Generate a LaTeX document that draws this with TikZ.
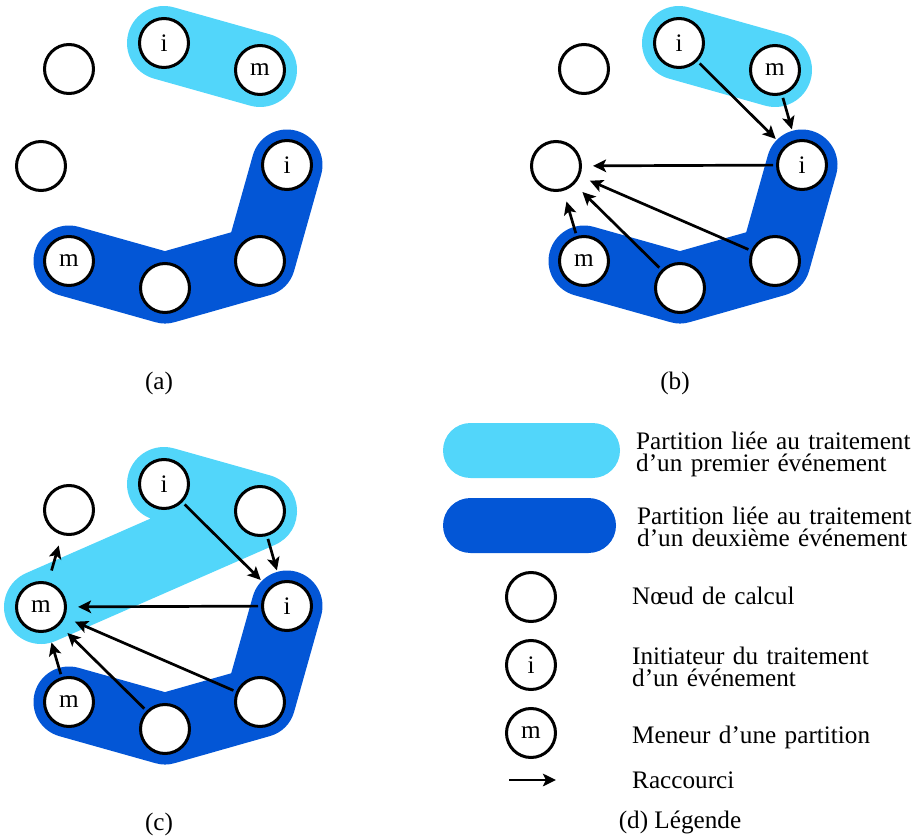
\documentclass[tikz,border=0pt]{standalone}
\usepackage{fontspec}
\setmainfont{Liberation Serif}
\usetikzlibrary{arrows.meta,backgrounds}
\definecolor{clair}{RGB}{82,214,250}
\definecolor{fonce}{RGB}{3,86,214}
\tikzset{
  noeud/.style={draw,circle,line width=3pt,fill=white,minimum size=49pt,inner sep=0pt},
  lien/.style={-{Stealth[length=13pt,width=12.5pt,inset=3pt]},line width=2.7pt,shorten <=3pt,shorten >=11pt},
  partA/.style={draw=clair,line width=74pt,line cap=round,line join=round},
  partB/.style={draw=fonce,line width=71pt,line cap=round,line join=round},
  capsule/.style={rounded corners=27.5pt,minimum height=55pt,inner sep=0pt},
  legende/.style={anchor=base west,inner sep=0pt,text width=276pt,align=left},
}

\begin{document}
\begin{tikzpicture}[x=1pt,y=-1pt,font=\fontsize{25.2pt}{22pt}\selectfont]
  \useasboundingbox (0,0) rectangle (914,837);

  % (a) et (b) : meme anneau de noeuds
  \foreach \p/\dx in {a/0,b/515}
    \foreach \n/\x/\y/\t in {hg/69/69/{}, g/41/166/{}, h/164/43/i, hd/260/70/m,
                             d/287/165/i, bd/260/261/{}, bm/165/288/{}, bg/69/261/m}
      \node[noeud] (\p-\n) at (\x+\dx,\y) {\t};
  % (c) : le meneur de la premiere partition a change
  \foreach \n/\x/\y/\t in {hg/69/510/{}, g/41/607/m, h/164/484/i, hd/260/511/{},
                           d/287/606/i, bd/260/702/{}, bm/165/729/{}, bg/69/702/m}
    \node[noeud] (c-\n) at (\x,\y) {\t};

  \begin{scope}[on background layer]
    \draw[partA] (a-h.center) -- (a-hd.center);
    \draw[partB] (a-bg.center) -- (a-bm.center) -- (a-bd.center) -- (a-d.center);
    \draw[partA] (b-h.center) -- (b-hd.center);
    \draw[partB] (b-bg.center) -- (b-bm.center) -- (b-bd.center) -- (b-d.center);
    \draw[partA] (c-h.center) -- (c-hd.center) -- (c-g.center);
    \draw[partB] (c-bg.center) -- (c-bm.center) -- (c-bd.center) -- (c-d.center);
  \end{scope}

  % raccourcis
  \draw[lien] (b-h) -- (b-d);
  \draw[lien] (b-hd) -- (b-d);
  \draw[lien] (b-d) -- (b-g);
  \draw[lien] (b-bd) -- (b-g);
  \draw[lien] (b-bm) -- (b-g);
  \draw[lien] (b-bg) -- (b-g);

  \draw[lien] (c-h) -- (c-d);
  \draw[lien] (c-hd) -- (c-d);
  \draw[lien] (c-d) -- (c-g);
  \draw[lien] (c-bd) -- (c-g);
  \draw[lien] (c-bm) -- (c-g);
  \draw[lien] (c-bg) -- (c-g);
  \draw[lien,shorten <=12pt] (c-g) -- (c-hg);

  \node[anchor=base] (cap-a) at (159,389) {(a)};
  \node[anchor=base] (cap-b) at (675,389) {(b)};
  \node[anchor=base] (cap-c) at (159,830) {(c)};
  \node[anchor=base] (cap-d) at (680,828) {(d) Légende};

  % legende
  \node[capsule,fill=clair,minimum width=177pt] (leg-a) at (531.5,450.5) {};
  \node[capsule,fill=fonce,minimum width=173pt] (leg-b) at (529.5,525.5) {};
  \node[noeud] (leg-n) at (531,597) {};
  \node[noeud] (leg-i) at (531,665) {i};
  \node[noeud] (leg-m) at (531,733) {m};
  \coordinate (leg-r1) at (509,780);
  \coordinate (leg-r2) at (556,780);
  \draw[lien,shorten <=0pt,shorten >=0pt] (leg-r1) -- (leg-r2);

  \node[legende] (txt-a) at (636,449) {Partition liée au traitement\\d’un premier événement};
  \node[legende] (txt-b) at (637,524) {Partition liée au traitement\\d’un deuxième événement};
  \node[legende] (txt-n) at (632,604) {Nœud de calcul};
  \node[legende] (txt-i) at (632,664) {\makebox[245pt][s]{Initiateur du traitement}\\d’un événement};
  \node[legende] (txt-m) at (632,743) {Meneur d’une partition};
  \node[legende] (txt-r) at (632,788) {Raccourci};
\end{tikzpicture}
\end{document}
